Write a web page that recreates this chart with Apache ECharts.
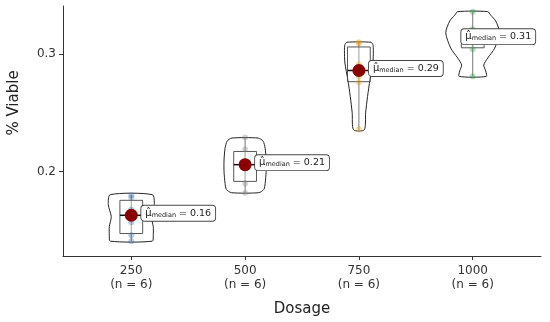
<!DOCTYPE html>
<html><head><meta charset="utf-8">
<script src="https://cdn.jsdelivr.net/npm/echarts@6/dist/echarts.min.js"></script>
<style>html,body{margin:0;padding:0;background:#fff}#c{width:550px;height:322px}</style>
</head><body><div id="c"></div>
<script>
// ---- data ----
const categories = ['250', '500', '750', '1000'];
const groupSizes = [6, 6, 6, 6];
const pointsByGroup = [
  [0.141, 0.146, 0.157, 0.168, 0.178, 0.180],
  [0.182, 0.190, 0.203, 0.209, 0.219, 0.229],
  [0.236, 0.276, 0.281, 0.291, 0.309, 0.310],
  [0.281, 0.304, 0.310, 0.316, 0.321, 0.336]
];
const boxMin    = [0.141, 0.1822, 0.2356, 0.281];
const boxQ1     = [0.1475, 0.1918, 0.2765, 0.3053];
const boxMedian = [0.163, 0.206, 0.286, 0.313];
const boxQ3     = [0.1757, 0.2172, 0.306, 0.3195];
const boxMax    = [0.1805, 0.2286, 0.310, 0.336];
const medianLabels = ['0.16', '0.21', '0.29', '0.31'];
// violin outlines: value levels and half-widths (in category units)
const violinValues = [
  [0.141, 0.1458, 0.1534, 0.1619, 0.172, 0.1805],
  [0.1822, 0.185, 0.19, 0.20, 0.21, 0.22, 0.226, 0.2286],
  [0.2356, 0.25, 0.264, 0.278, 0.2924, 0.303, 0.308, 0.310],
  [0.281, 0.2856, 0.2907, 0.2966, 0.305, 0.318, 0.328, 0.333, 0.336]
];
const violinHalfWidths = [
  [0.185, 0.193, 0.193, 0.176, 0.202, 0.185],
  [0.12, 0.165, 0.176, 0.185, 0.185, 0.176, 0.158, 0.115],
  [0.047, 0.059, 0.076, 0.097, 0.123, 0.127, 0.123, 0.105],
  [0.119, 0.114, 0.097, 0.132, 0.193, 0.237, 0.202, 0.158, 0.132]
];
const yTicks = [0.2, 0.3];
const xTicks = [1, 2, 3, 4];
const pointColors = ['#3A6FB0', '#8a8a8a', '#E69F00', '#2E9B4E'];

const FONT = 'DejaVu Sans';
const chart = echarts.init(document.getElementById('c'));

const scatterData = [];
pointsByGroup.forEach((arr, g) => arr.forEach(v => scatterData.push({value: [g + 1, v], itemStyle: {color: pointColors[g]}})));

const option = {
  animation: false,
  grid: {left: 63, right: 9, top: 6, bottom: 66},
  xAxis: {
    type: 'value', min: 0.4, max: 4.6,
    name: 'Dosage', nameLocation: 'middle', nameGap: 46,
    nameTextStyle: {fontFamily: FONT, fontSize: 15, color: '#222'},
    axisLine: {show: true, lineStyle: {color: '#333', width: 1}},
    axisTick: {show: true, length: 4, customValues: xTicks, lineStyle: {color: '#333'}},
    axisLabel: {customValues: xTicks, margin: 8, fontFamily: FONT, fontSize: 12, color: '#333', lineHeight: 14,
      formatter: v => categories[Math.round(v) - 1] + '\n(n = ' + groupSizes[Math.round(v) - 1] + ')'},
    splitLine: {show: false}
  },
  yAxis: {
    type: 'value', min: 0.1284, max: 0.3408,
    axisLine: {show: true, lineStyle: {color: '#333', width: 1}},
    axisTick: {show: true, length: 4, customValues: yTicks, lineStyle: {color: '#333'}},
    axisLabel: {customValues: yTicks, margin: 7, fontFamily: FONT, fontSize: 12, color: '#333',
      formatter: v => v.toFixed(1)},
    splitLine: {show: false}
  },
  graphic: [{
    type: 'text', x: 14, y: 103, rotation: Math.PI / 2,
    style: {text: '% Viable', fontFamily: FONT, fontSize: 15, fill: '#222', align: 'center', verticalAlign: 'middle'}
  }],
  series: [
    { // violins
      type: 'custom', z: 1,
      data: categories.map((c, g) => [g]),
      renderItem(params, api) {
        const g = api.value(0);
        const vals = violinValues[g], hws = violinHalfWidths[g];
        const xc = g + 1;
        const right = vals.map((v, i) => api.coord([xc + hws[i], v]));
        const left = vals.map((v, i) => api.coord([xc - hws[i], v])).reverse();
        return {type: 'polygon', shape: {points: right.concat(left), smooth: 0.25},
          style: {fill: 'rgba(255,255,255,0.2)', stroke: '#222', lineWidth: 1}};
      }
    },
    { // boxplots
      type: 'custom', z: 2,
      data: categories.map((c, g) => [g]),
      renderItem(params, api) {
        const g = api.value(0);
        const xc = g + 1, hw = 0.1;
        const pMax = api.coord([xc, boxMax[g]]), pMin = api.coord([xc, boxMin[g]]);
        const tl = api.coord([xc - hw, boxQ3[g]]), br = api.coord([xc + hw, boxQ1[g]]);
        const ml = api.coord([xc - hw, boxMedian[g]]), mr = api.coord([xc + hw, boxMedian[g]]);
        return {type: 'group', children: [
          {type: 'line', shape: {x1: pMax[0], y1: pMax[1], x2: pMin[0], y2: pMin[1]}, style: {stroke: '#555', lineWidth: 0.8}},
          {type: 'rect', shape: {x: tl[0], y: tl[1], width: br[0] - tl[0], height: br[1] - tl[1]},
            style: {fill: 'rgba(255,255,255,0.3)', stroke: '#444', lineWidth: 0.9}},
          {type: 'line', shape: {x1: ml[0], y1: ml[1], x2: mr[0], y2: mr[1]}, style: {stroke: '#111', lineWidth: 1.5}}
        ]};
      }
    },
    { // raw points
      type: 'scatter', z: 3, symbolSize: 6,
      itemStyle: {opacity: 0.35},
      data: scatterData
    },
    { // median dots
      type: 'scatter', z: 4, symbolSize: 13,
      itemStyle: {color: '#8B0000', opacity: 1},
      data: boxMedian.map((m, g) => [g + 1, m])
    },
    { // median labels
      type: 'custom', z: 5,
      data: boxMedian.map((m, g) => [g + 1, m, g]),
      renderItem(params, api) {
        const g = api.value(2);
        const p = api.coord([api.value(0), api.value(1)]);
        const cs = params.coordSys;
        const style = {
          text: '{mu|μ̂}{sub|median}{eq| = ' + medianLabels[g] + '}',
          rich: {
            mu: {fontFamily: FONT, fontSize: 10, fill: '#222', verticalAlign: 'middle'},
            sub: {fontFamily: FONT, fontSize: 6.5, fill: '#222', verticalAlign: 'bottom', padding: [4, 0, 0, 0]},
            eq: {fontFamily: FONT, fontSize: 9.5, fill: '#222', verticalAlign: 'middle'}
          },
          backgroundColor: '#fff', borderColor: '#444', borderWidth: 0.9, borderRadius: 3,
          padding: [2, 4, 2, 4], align: 'left', verticalAlign: 'middle'
        };
        const probe = new echarts.graphic.Text({style: style});
        const w = probe.getBoundingRect().width;
        let x = p[0] + 10;
        const maxRight = cs.x + cs.width - 4;
        if (x + w > maxRight) x = maxRight - w;
        return {type: 'text', x: x, y: p[1] - 2, style: style};
      }
    }
  ]
};
chart.setOption(option);
</script></body></html>
